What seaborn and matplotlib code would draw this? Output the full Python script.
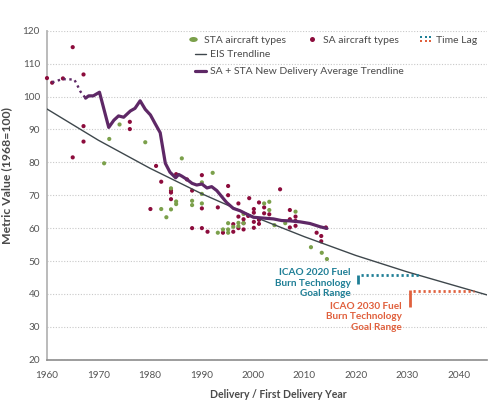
import numpy as np
import pandas as pd
import matplotlib
matplotlib.use("Agg")
import matplotlib.pyplot as plt
import seaborn as sns
from matplotlib.lines import Line2D
from matplotlib.legend_handler import HandlerBase
from matplotlib.markers import MarkerStyle
from matplotlib.transforms import Affine2D

# --- data ---
sa_years = [1960.0, 1961.0, 1963.1, 1965.0, 1967.1, 1967.1, 1967.1, 1965.0, 1976.1, 1976.1,
            1981.2, 1982.2, 1985.1, 1980.1, 1984.1, 1984.1, 1984.1, 1987.2, 1988.2, 1988.2,
            1990.1, 1990.1, 1990.1, 1991.2, 1993.2, 1994.2, 1995.2, 1995.2, 1996.2, 1996.2,
            1997.2, 1997.2, 1997.2, 1998.2, 1998.2, 1998.2, 1999.1, 1999.3, 2000.2, 2000.2,
            2000.2, 2000.2, 2001.2, 2001.2, 2001.2, 2002.2, 2002.2, 2003.2, 2005.3, 2007.2,
            2007.2, 2007.2, 2008.3, 2008.3, 2008.3, 2012.4, 2013.3, 2013.3, 2014.2]
sa_values = [105.6, 104.2, 105.5, 115.0, 106.7, 91.0, 86.3, 81.5, 92.3, 90.1,
             78.9, 74.1, 76.4, 65.8, 71.4, 70.8, 68.8, 74.8, 71.4, 60.0,
             76.1, 66.0, 60.0, 58.9, 66.3, 58.6, 72.8, 70.0, 61.2, 58.9,
             67.5, 63.5, 60.0, 62.7, 61.5, 59.6, 63.7, 69.1, 65.8, 64.7,
             61.9, 60.1, 67.8, 62.5, 61.3, 66.3, 64.5, 64.2, 71.8, 65.5,
             62.7, 60.2, 63.5, 62.2, 60.7, 58.6, 57.6, 56.0, 60.2]

sta_years = [1971.1, 1972.1, 1974.1, 1979.1, 1986.2, 1984.1, 1985.1, 1985.1, 1982.2, 1983.2,
             1984.1, 1988.2, 1988.2, 1990.1, 1990.1, 1990.1, 1992.2, 1993.2, 1994.2, 1995.2,
             1995.2, 1995.2, 1996.2, 1997.2, 1997.2, 1998.2, 1998.2, 2002.2, 2003.2, 2003.2,
             2004.2, 2006.3, 2008.3, 2011.3, 2013.4, 2014.4]
sta_values = [79.7, 87.1, 91.5, 86.1, 81.2, 72.1, 68.1, 67.3, 65.8, 63.3,
              65.7, 68.3, 67.0, 73.9, 70.4, 67.5, 76.8, 58.6, 59.6, 61.5,
              59.6, 58.6, 60.4, 61.6, 60.6, 64.3, 61.5, 67.5, 68.0, 65.5,
              60.9, 61.5, 65.0, 54.2, 52.5, 50.6]

# time lag part of the delivery average (dotted)
lag_years = [1961.0, 1962.0, 1963.0, 1964.0, 1965.3, 1965.7, 1966.1, 1966.5, 1967.5]
lag_values = [104.3, 104.8, 105.3, 105.2, 105.2, 104.0, 102.8, 101.5, 99.5]

avg_years = [1967.5, 1968.1, 1969.0, 1970.2, 1972.0, 1973.0, 1973.9, 1974.9, 1976.2, 1977.1,
             1978.1, 1979.1, 1980.1, 1981.0, 1982.0, 1983.0, 1983.9, 1985.0, 1985.6, 1986.2,
             1987.2, 1988.2, 1989.1, 1990.1, 1991.1, 1992.0, 1993.0, 1994.0, 1994.9, 1996.2,
             1997.5, 1998.5, 2000.1, 2002.4, 2004.0, 2005.6, 2007.2, 2009.2, 2011.1, 2013.1,
             2014.4]
avg_values = [99.5, 100.2, 100.2, 101.3, 90.6, 92.8, 94.1, 93.7, 95.6, 96.4,
              98.7, 96.1, 94.4, 91.8, 89.0, 79.7, 77.0, 75.3, 76.3, 75.8,
              74.8, 73.6, 73.1, 73.4, 72.2, 72.6, 71.4, 69.5, 67.8, 66.0,
              65.3, 64.5, 63.3, 63.0, 62.8, 62.3, 62.2, 61.9, 61.4, 60.4,
              59.9]

eis_years = [1960, 1970, 1980, 1990, 2000, 2010, 2020, 2030, 2045.5]
eis_values = [96.2, 86.7, 78.2, 70.5, 63.6, 57.4, 51.7, 46.7, 39.7]

goal_labels = ["ICAO 2020 Fuel\nBurn Technology\nGoal Range",
               "ICAO 2030 Fuel\nBurn Technology\nGoal Range"]
goal_years = [2020.5, 2030.5]
goal_values = [45.7, 40.9]
goal_end_years = [2032.5, 2043.0]
goal_label_values = [43.2, 33.1]

GREEN = "#7ba04b"
RED = "#8c0c3c"
PURPLE = "#5e2866"
GREY_LINE = "#3e474c"
TEAL = "#1f7f96"
ORANGE = "#e0603d"
TEXT = "#4a4a4a"

sns.set_theme(style="white")
plt.rcParams["font.family"] = ["Lato", "DejaVu Sans"]

pts = pd.DataFrame({
    "year": sa_years + sta_years,
    "value": sa_values + sta_values,
    "type": ["SA aircraft types"] * len(sa_years) + ["STA aircraft types"] * len(sta_years),
})
avg = pd.DataFrame({"year": avg_years, "value": avg_values})
lag = pd.DataFrame({"year": lag_years, "value": lag_values})
eis = pd.DataFrame({"year": eis_years, "value": eis_values})

fig, ax = plt.subplots(figsize=(5.02, 4.03), dpi=100)
fig.subplots_adjust(left=0.0936, right=0.970, bottom=0.1074, top=0.9238)

sns.scatterplot(data=pts, x="year", y="value", hue="type",
                palette={"SA aircraft types": RED, "STA aircraft types": GREEN},
                s=9, linewidth=0, legend=False, ax=ax, zorder=3, clip_on=False)
sns.lineplot(data=eis, x="year", y="value", color=GREY_LINE, lw=1.0,
             estimator=None, ax=ax, zorder=4)
sns.lineplot(data=lag, x="year", y="value", color=PURPLE, lw=1.7,
             linestyle=(0, (1, 1.5)), estimator=None, ax=ax, zorder=5)
sns.lineplot(data=avg, x="year", y="value", color=PURPLE, lw=2.3,
             estimator=None, ax=ax, zorder=5)

# ICAO goal ranges
for lab, gx, gy, ge, ly, col, drop in zip(goal_labels, goal_years, goal_values,
                                           goal_end_years, goal_label_values,
                                           [TEAL, ORANGE], [2.8, 4.8]):
    ax.plot([gx, gx], [gy + 0.2, gy - drop], color=col, lw=2.0, solid_capstyle="butt", zorder=5)
    ax.plot([gx + 0.6, ge], [gy, gy], color=col, lw=2.0, linestyle=(0, (0.8, 1.0)), zorder=5)
    ax.text(gx - 1.5, ly, lab, color=col, fontsize=7.2, fontweight="bold",
            ha="right", va="center", linespacing=1.2, zorder=6)

ax.set_xlim(1960, 2045.5)
ax.set_ylim(20, 120)
ax.set_xticks(range(1960, 2041, 10))
ax.set_yticks(range(20, 121, 10))
ax.yaxis.grid(True, color="#c9c9c9", linestyle=(0, (1, 1.5)), linewidth=0.8)
ax.xaxis.grid(False)
ax.set_axisbelow(True)
sns.despine(ax=ax)
ax.spines["left"].set_color("#b5b5b5")
ax.spines["left"].set_linewidth(1.3)
ax.spines["bottom"].set_color("#8c8c8c")
ax.spines["bottom"].set_linewidth(1.2)
ax.tick_params(axis="both", length=0, labelsize=7.2, colors="#555555")
ax.tick_params(axis="x", pad=8)
ax.tick_params(axis="y", pad=5)

ax.set_xlabel("Delivery / First Delivery Year", fontsize=7.6, fontweight="bold", color=TEXT)
ax.set_ylabel("Metric Value (1968=100)", fontsize=8.8, fontweight="bold", color=TEXT)
ax.xaxis.set_label_coords(0.527, -0.089)
ax.yaxis.set_label_coords(-0.08, 0.56)


class TimeLagHandler(HandlerBase):
    def create_artists(self, legend, orig_handle, xdescent, ydescent,
                       width, height, fontsize, trans):
        arts = []
        xs = np.linspace(0.05 * width, 0.95 * width, 3) - xdescent
        for i, c in enumerate([TEAL, ORANGE]):
            y = height * (0.74 - 0.46 * i) - ydescent
            arts.append(Line2D(xs, [y] * 3, ls="none", marker="s", ms=1.5,
                               mew=0, color=c, transform=trans))
        return arts


ellipse = MarkerStyle("o", transform=Affine2D().scale(1.7, 1.0))
h_sta = Line2D([], [], ls="none", marker=ellipse, ms=3.6, mew=0, color=GREEN)
h_sa = Line2D([], [], ls="none", marker="o", ms=3.6, mew=0, color=RED)
h_lag = Line2D([], [])
leg1 = ax.legend([h_sta, h_sa, h_lag],
                 ["STA aircraft types", "SA aircraft types", "Time Lag"],
                 handler_map={h_lag: TimeLagHandler()},
                 ncol=3, frameon=False, fontsize=7.5, labelcolor=TEXT,
                 loc="center left", bbox_to_anchor=(188 / 502, 1 - 40 / 403),
                 bbox_transform=fig.transFigure, borderpad=0, borderaxespad=0,
                 handlelength=0.9, handletextpad=0.6, columnspacing=2.1)
ax.add_artist(leg1)

h_eis = Line2D([], [], color=GREY_LINE, lw=1.0)
h_avg = Line2D([], [], color=PURPLE, lw=2.3)
ax.legend([h_eis, h_avg],
          ["EIS Trendline", "SA + STA New Delivery Average Trendline"],
          frameon=False, fontsize=7.5, labelcolor=TEXT,
          loc="upper left", bbox_to_anchor=(195 / 502, 1 - 50 / 403),
          bbox_transform=fig.transFigure, borderpad=0, borderaxespad=0,
          handlelength=1.05, handletextpad=0.4, labelspacing=0.75)

fig.savefig("out.png", dpi=100, facecolor="white")
